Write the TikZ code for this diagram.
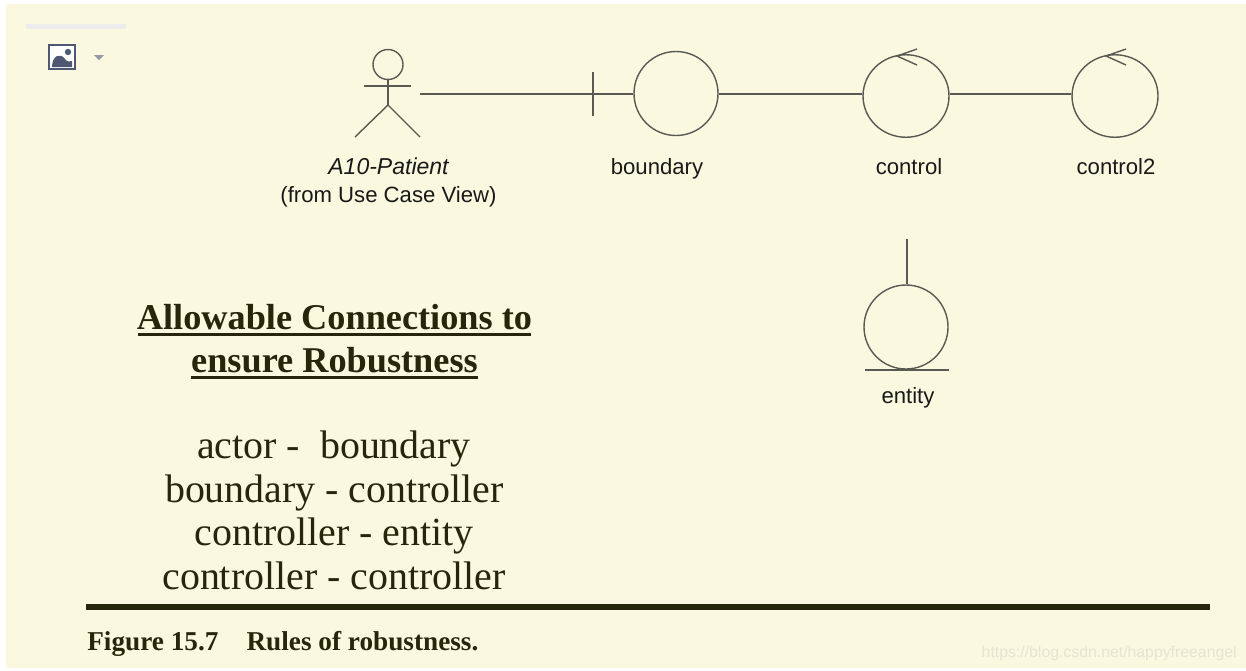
\documentclass[tikz,border=0pt]{standalone}
\usepackage{fontspec}
\usetikzlibrary{shapes.geometric}
\setmainfont{Liberation Serif}
\newfontfamily\umlfont{Liberation Sans}
\definecolor{paper}{HTML}{FAF8DF}
\definecolor{inkdark}{HTML}{26260A}
\definecolor{umlgray}{HTML}{5A5A55}
\definecolor{iconblue}{HTML}{4E5872}
\definecolor{markgray}{HTML}{E6E4D2}
\begin{document}
\begin{tikzpicture}[x=0.02cm, y=-0.02cm,
    umlline/.style={draw=umlgray, line width=0.8pt},
    umlcircle/.style={umlline, circle, minimum size=84*0.02cm, inner sep=0pt},
    umloval/.style={umlline, ellipse, minimum width=86*0.02cm, minimum height=82.5*0.02cm, inner sep=0pt},
    umllabel/.style={font=\umlfont\fontsize{12.6}{15}\selectfont, text=black!90, anchor=base, inner sep=0pt},
    headline/.style={font=\bfseries\fontsize{20.65}{25}\selectfont, text=inkdark, anchor=base, inner sep=0pt},
    headrule/.style={draw=inkdark, line width=1.7pt},
    ruletext/.style={font=\fontsize{22.7}{27}\selectfont, text=inkdark, anchor=base, inner sep=0pt}]
  \useasboundingbox (0,0) rectangle (1246,670);
  \fill[white] (0,0) rectangle (1246,670);
  \fill[paper] (6,4) rectangle (1246,668);

  % image placeholder
  \fill[black!7] (26,24) rectangle (126,29);
  \draw[iconblue, line width=1pt, fill=white] (49,45) rectangle (75,69);
  \fill[iconblue] (52,67) .. controls (52,56) and (60,52) .. (65,59) .. controls (67,62) and (70,62) .. (72,61) -- (72,67) -- cycle;
  \fill[iconblue] (68,52) circle (3.2);
  \fill[iconblue!60] (94,55) -- (104,55) -- (99,60) -- cycle;

  % the actor
  \node[umlcircle, minimum size=30*0.02cm] (head) at (388,64.5) {};
  \coordinate (hip) at (388,105);
  \draw[umlline] (head.south) -- (hip);
  \draw[umlline] (364,86) -- (411,86);
  \draw[umlline] (355,137) -- (hip) -- (420,137);
  \coordinate (actorend) at (420,94);
  \node[umllabel, font=\umlfont\fontsize{13.1}{15}\selectfont] (patient) at (388.5,174.5) {\itshape A10-Patient};
  \node[umllabel] (patientview) at (388.5,202.5) {(from Use Case View)};

  % the circles
  \node[umlcircle] (boundary) at (676,93.5) {};
  \node[umloval] (control) at (906,96) {};
  \node[umloval] (controlb) at (1115,96) {};
  \node[umlcircle] (entity) at (906,327) {};

  \node[umllabel] (boundarytext) at (657,174.5) {boundary};
  \node[umllabel] (controltext) at (909,174.5) {control};
  \node[umllabel] (controlbtext) at (1116,174.5) {control2};
  \node[umllabel] (entitytext) at (908,403.5) {entity};

  % connections
  \coordinate (tick) at (593,94);
  \draw[umlline] (actorend) -- (tick) -- (boundary.west |- tick);
  \draw[umlline] (593,72) -- (593,116);
  \draw[umlline] (boundary.east |- tick) -- (control.west |- tick);
  \draw[umlline] (control.east |- tick) -- (controlb.west |- tick);
  \coordinate (entitytop) at (907,239);
  \draw[umlline] (entitytop) -- (entitytop |- entity.north);
  \draw[umlline] (865,370) -- (949,370);

  % arrow marks on the controllers
  \draw[umlline] (917,49) -- (897,56) -- (917,65);
  \draw[umlline] (1126,49) -- (1106,56) -- (1126,65);

  % text on the left
  \node[headline] (titlea) at (334.5,329.5) {Allowable Connections to};
  \node[headline] (titleb) at (334.5,372.5) {ensure Robustness};
  \draw[headrule] (137.5,334.5) -- (531,334.5);
  \draw[headrule] (191,377.5) -- (478,377.5);
  \node[ruletext] (rulea) at (334,458.5) {actor -\ \ boundary};
  \node[ruletext] (ruleb) at (334.5,502) {boundary - controller};
  \node[ruletext] (rulec) at (334,545.5) {controller - entity};
  \node[ruletext] (ruled) at (334,589) {controller - controller};

  % rule and caption
  \draw[inkdark, line width=3.4pt] (86,606.7) -- (1210,606.7);
  \node[anchor=base west, inner sep=0pt, text=inkdark, font=\bfseries\fontsize{15.5}{18}\selectfont] (caption) at (87,650) {Figure 15.7\hspace{16pt}Rules of robustness.};
  \node[anchor=base east, inner sep=0pt, text=markgray, font=\umlfont\fontsize{9}{11}\selectfont] (mark) at (1237,657) {https://blog.csdn.net/happyfreeangel};
\end{tikzpicture}
\end{document}
